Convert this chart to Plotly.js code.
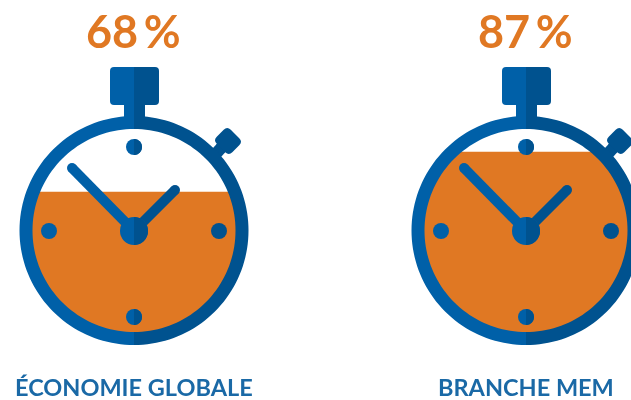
<!DOCTYPE html>
<html><head><meta charset="utf-8">
<script src="https://cdn.plot.ly/plotly-3.0.1.min.js"></script>
<style>html,body{margin:0;padding:0;background:#fff;overflow:hidden}#c{width:631px;height:400px;filter:blur(0.6px)}</style>
</head><body><div id="c"></div>
<script>
const categories = ["ÉCONOMIE GLOBALE", "BRANCHE MEM"];
const shares = [68, 87];
const shareLabels = ["68\u2009%", "87\u2009%"];
const clockX = [134, 526];

const ORANGE = "#e07823", BLUE = "#0060a8", DARK = "#00528f", TEXTBLUE = "#1a69a6";
const CY = 230.5, RO = 114.5, RI = 101.5;
const LEVEL0 = 335, PX_PER_PCT = 2.105;

const shapes = [], traces = [], annotations = [];
const fillShape = (path, color) => shapes.push({type:"path", path, fillcolor:color, line:{width:0}, xref:"x", yref:"y", layer:"above"});
const dot = (x, y, r, color) => shapes.push({type:"circle", x0:x-r, x1:x+r, y0:y-r, y1:y+r, fillcolor:color, line:{width:0}, xref:"x", yref:"y", layer:"above"});
const rect = (x0, x1, y0, y1, color) => shapes.push({type:"rect", x0, x1, y0, y1, fillcolor:color, line:{width:0}, xref:"x", yref:"y", layer:"above"});
const toPath = pts => "M" + pts.map(p => p[0].toFixed(2) + "," + p[1].toFixed(2)).join("L") + "Z";

// a bar of width w with a round far end, as a filled outline
function bar(x0, y0, x1, y1, w, color) {
  const L = Math.hypot(x1-x0, y1-y0), nx = -(y1-y0)/L*w/2, ny = (x1-x0)/L*w/2;
  fillShape(toPath([[x0+nx,y0+ny],[x1+nx,y1+ny],[x1-nx,y1-ny],[x0-nx,y0-ny]]), color);
  dot(x1, y1, w/2, color);
}
function halfRing(cx, side, color) {
  const pts = [], n = 80;
  for (let i = 0; i <= n; i++) { const a = -Math.PI/2 + Math.PI*i/n; pts.push([cx + side*RO*Math.cos(a), CY + RO*Math.sin(a)]); }
  for (let i = n; i >= 0; i--) { const a = -Math.PI/2 + Math.PI*i/n; pts.push([cx + side*RI*Math.cos(a), CY + RI*Math.sin(a)]); }
  fillShape(toPath(pts), color);
}
function splitDisc(cx, cy, r) {
  dot(cx, cy, r, BLUE);
  const pts = [], n = 40;
  for (let i = 0; i <= n; i++) { const a = -Math.PI/2 + Math.PI*i/n; pts.push([cx + r*Math.cos(a), cy + r*Math.sin(a)]); }
  fillShape(toPath(pts), DARK);
}
function roundedPoly(corners, r) {
  let d = "";
  const m = corners.length;
  corners.forEach((c, i) => {
    const p = corners[(i + m - 1) % m], q = corners[(i + 1) % m];
    const toward = (a, b) => { const L = Math.hypot(b[0]-a[0], b[1]-a[1]); return [a[0] + (b[0]-a[0])*r/L, a[1] + (b[1]-a[1])*r/L]; };
    const s = toward(c, p), e = toward(c, q);
    d += (i ? "L" : "M") + s[0].toFixed(2) + "," + s[1].toFixed(2) + "Q" + c[0].toFixed(2) + "," + c[1].toFixed(2) + " " + e[0].toFixed(2) + "," + e[1].toFixed(2);
  });
  return d + "Z";
}

clockX.forEach((cx, k) => {
  // orange liquid, level set by the share
  const level = LEVEL0 - shares[k]*PX_PER_PCT;
  const R = RI + 2, xs = [], ys = [];
  const a0 = Math.asin((level - CY)/R), n = 120;
  for (let i = 0; i <= n; i++) {
    const a = a0 + (Math.PI - 2*a0)*i/n;
    xs.push(cx + R*Math.cos(a)); ys.push(CY + R*Math.sin(a));
  }
  xs.push(xs[0]); ys.push(ys[0]);
  traces.push({type:"scatter", mode:"lines", x:xs, y:ys, fill:"toself", fillcolor:ORANGE, line:{width:0, color:ORANGE}, hoverinfo:"skip", showlegend:false});

  // knob
  const kx = cx + 94, ky = 141, h = 11, c = Math.SQRT1_2;
  bar(cx + 78, 158, kx - 6, ky + 6, 12, DARK);
  const rot = (u, v) => [kx + (u - v)*c, ky + (u + v)*c];
  fillShape(roundedPoly([rot(-h,-h*0.9), rot(h,-h*0.9), rot(h,h*0.9), rot(-h,h*0.9)], 5), DARK);

  // case
  halfRing(cx, -1, BLUE);
  halfRing(cx, 1, DARK);
  rect(cx - 10, cx, 104, 119, BLUE);
  rect(cx, cx + 11, 104, 119, DARK);
  fillShape(`M${cx},67L${cx-20},67Q${cx-24},67 ${cx-24},71L${cx-24},101Q${cx-24},105 ${cx-20},105L${cx},105Z`, BLUE);
  fillShape(`M${cx},67L${cx+21},67Q${cx+25},67 ${cx+25},71L${cx+25},101Q${cx+25},105 ${cx+21},105L${cx},105Z`, DARK);

  // hour dots
  splitDisc(cx, 147, 8); dot(cx - 85, 231, 8, BLUE); dot(cx + 85, 231, 8, DARK); splitDisc(cx, 317, 8);

  // hands
  bar(cx, 231, cx - 62, 168, 10, BLUE);
  bar(cx, 231, cx + 41, 190, 10, DARK);
  splitDisc(cx, 231, 14);

  annotations.push({text:shareLabels[k], x:cx - 0.5, y:31, xref:"x", yref:"y", showarrow:false, xanchor:"center", yanchor:"middle",
    font:{family:"Lato", size:45, color:ORANGE, weight:700}});
  annotations.push({text:categories[k], x:cx, y:400, yshift:-2, xref:"x", yref:"y", showarrow:false, xanchor:"center", yanchor:"bottom", borderpad:0,
    font:{family:"Lato", size:23.5, color:TEXTBLUE, weight:700}});
});

const hiddenAxis = r => ({range:r, visible:false, fixedrange:true, showgrid:false, zeroline:false});
Plotly.newPlot("c", traces, {
  width:631, height:400, margin:{l:0,r:0,t:0,b:0}, paper_bgcolor:"#fff", plot_bgcolor:"#fff",
  xaxis:hiddenAxis([0,631]), yaxis:hiddenAxis([400,0]), shapes, annotations, showlegend:false
}, {displayModeBar:false, staticPlot:true});
</script></body></html>
